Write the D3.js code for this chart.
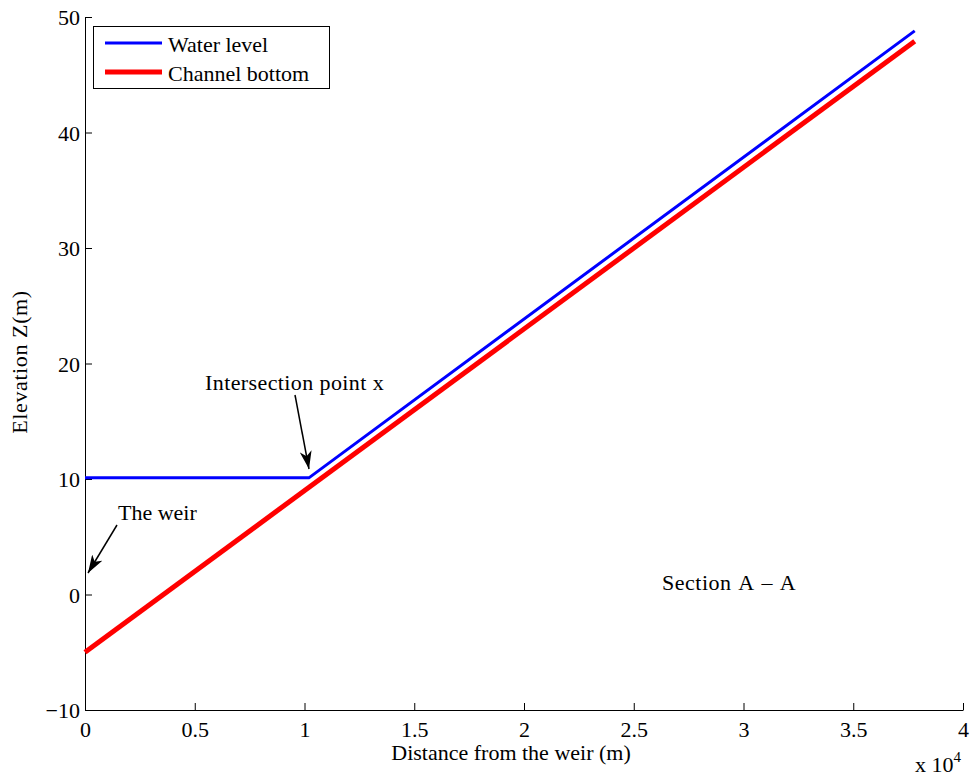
<!DOCTYPE html>
<meta charset="utf-8">
<style>
  body { margin: 0; background: #fff; }
  text { font-family: "Liberation Serif", "Times New Roman", serif; font-size: 22px; fill: #000; }
  .axis path, .axis line { stroke: #000; stroke-width: 1; }
</style>
<body>
<svg width="973" height="778"></svg>
<script src="https://d3js.org/d3.v7.min.js"></script>
<script>
// Data (distance in m, elevation in m)
const waterX = [0, 10200, 37800];
const waterZ = [10.1, 10.1, 48.8];
const bottomX = [0, 37800];
const bottomZ = [-5, 47.9];
const xTicks = [0, 5000, 10000, 15000, 20000, 25000, 30000, 35000, 40000];
const yTicks = [-10, 0, 10, 20, 30, 40, 50];

const svg = d3.select('svg');
const margin = { left: 85, right: 10, top: 17, bottom: 68 };
const W = 973, H = 778;

const x = d3.scaleLinear().domain([0, 40000]).range([margin.left, W - margin.right]);
const y = d3.scaleLinear().domain([-10, 50]).range([H - margin.bottom, margin.top]);

// Axes (ticks inward, no box)
svg.append('g')
  .attr('class', 'axis')
  .attr('transform', `translate(0,${y(-10)})`)
  .call(d3.axisBottom(x).tickValues(xTicks).tickSizeInner(-7).tickSizeOuter(0)
    .tickFormat(d => d3.format('~g')(d / 10000)))
  .attr('font-family', null).attr('font-size', null)
  .call(g => g.selectAll('text').attr('dy', null).attr('y', 27));

svg.append('g')
  .attr('class', 'axis')
  .attr('transform', `translate(${x(0)},0)`)
  .call(d3.axisLeft(y).tickValues(yTicks).tickSizeInner(-7).tickSizeOuter(0)
    .tickFormat(d => d < 0 ? '\u2212' + Math.abs(d) : d))
  .attr('font-family', null).attr('font-size', null)
  .call(g => g.selectAll('text').attr('x', -5).attr('dy', '0.35em'));

const line = d3.line().x(d => x(d[0])).y(d => y(d[1]));

svg.append('path')
  .datum(bottomX.map((v, i) => [v, bottomZ[i]]))
  .attr('d', line)
  .attr('fill', 'none')
  .attr('stroke', '#ff0000')
  .attr('stroke-width', 5);

svg.append('path')
  .datum(waterX.map((v, i) => [v, waterZ[i]]))
  .attr('d', line)
  .attr('fill', 'none')
  .attr('stroke', '#0000ff')
  .attr('stroke-width', 3);

// Axis labels
svg.append('text')
  .attr('x', 511).attr('y', 760)
  .attr('text-anchor', 'middle')
  .text('Distance from the weir (m)');

svg.append('text')
  .attr('transform', 'translate(27,362) rotate(-90)')
  .attr('text-anchor', 'middle')
  .style('letter-spacing', '0.6px')
  .text('Elevation Z(m)');

const exp = svg.append('text').attr('x', 915).attr('y', 772);
exp.append('tspan').text('x 10');
exp.append('tspan').attr('dy', -10).style('font-size', '15px').text('4');

// Annotations
svg.append('defs').append('marker')
  .attr('id', 'arrow')
  .attr('viewBox', '0 0 18 12')
  .attr('refX', 18).attr('refY', 6)
  .attr('markerWidth', 18).attr('markerHeight', 12)
  .attr('markerUnits', 'userSpaceOnUse')
  .attr('orient', 'auto')
  .append('path')
  .attr('d', 'M0,0 L18,6 L0,12 L5,6 Z')
  .attr('fill', '#000');

svg.append('text').attr('x', 205).attr('y', 390)
  .style('letter-spacing', '0.4px').text('Intersection point x');
svg.append('line')
  .attr('x1', 295).attr('y1', 395).attr('x2', 309).attr('y2', 469)
  .attr('stroke', '#000').attr('stroke-width', 1.5)
  .attr('marker-end', 'url(#arrow)');

svg.append('text').attr('x', 118).attr('y', 520).text('The weir');
svg.append('line')
  .attr('x1', 117).attr('y1', 525).attr('x2', 88).attr('y2', 573)
  .attr('stroke', '#000').attr('stroke-width', 1.5)
  .attr('marker-end', 'url(#arrow)');

svg.append('text').attr('x', 662).attr('y', 590)
  .style('word-spacing', '2px').style('letter-spacing', '0.5px')
  .text('Section A \u2013 A');

// Legend
const legend = svg.append('g');
legend.append('rect')
  .attr('x', 93.5).attr('y', 26.5).attr('width', 236).attr('height', 62)
  .attr('fill', '#fff').attr('stroke', '#000').attr('stroke-width', 1);
const legendItems = [
  { label: 'Water level', color: '#0000ff', width: 3 },
  { label: 'Channel bottom', color: '#ff0000', width: 5 }
];
legendItems.forEach((d, i) => {
  const cy = 43 + i * 29;
  legend.append('line')
    .attr('x1', 105).attr('x2', 162).attr('y1', cy).attr('y2', cy)
    .attr('stroke', d.color).attr('stroke-width', d.width);
  legend.append('text').attr('x', 168).attr('y', cy + 9).text(d.label);
});
</script>
</body>
